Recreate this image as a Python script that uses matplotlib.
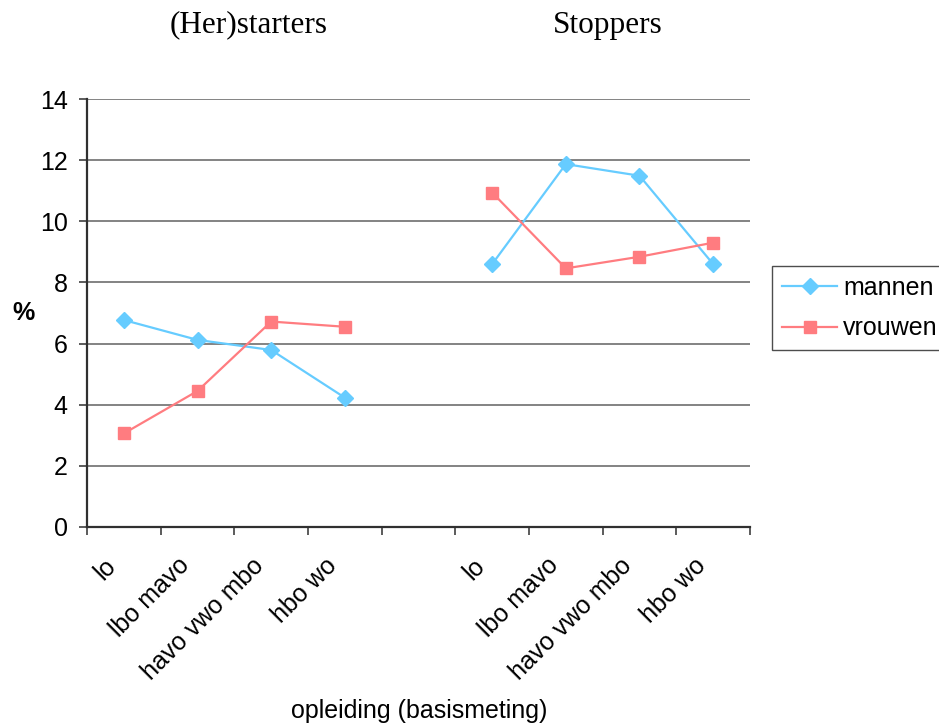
import matplotlib.pyplot as plt
import matplotlib.transforms as mtransforms
import numpy as np

plt.rcParams['font.family'] = ['Liberation Sans', 'DejaVu Sans']

# opleidingsniveaus, two groups separated by an empty slot
categories = ['lo', 'lbo mavo', 'havo vwo mbo', 'hbo wo', '',
              'lo', 'lbo mavo', 'havo vwo mbo', 'hbo wo']
mannen = [6.77, 6.12, 5.79, 4.23, np.nan, 8.6, 11.87, 11.49, 8.6]
vrouwen = [3.06, 4.45, 6.72, 6.55, np.nan, 10.94, 8.46, 8.84, 9.3]
group_titles = ['(Her)starters', 'Stoppers']

FS = 18

fig = plt.figure(figsize=(9.39, 7.28), dpi=100)
ax = fig.add_axes([0.0927, 0.2761, 0.7060, 0.5879])

x = np.arange(len(categories)) + 0.5
ax.plot(x, mannen, color='#66CCFF', lw=1.6, marker='D', ms=8.5,
        label='mannen')
ax.plot(x, vrouwen, color='#FF7C80', lw=1.6, marker='s', ms=8.8,
        label='vrouwen')

ax.set_xlim(0, len(categories))
ax.set_ylim(0, 14)
ax.set_yticks(range(0, 15, 2))
ax.yaxis.grid(True, color='#7a7a7a', lw=1.3)
ax.set_axisbelow(True)

# ticks sit on category boundaries, labels in the middle
ax.set_xticks(np.arange(len(categories) + 1))
ax.set_xticklabels([])
ax.set_xticks(x, minor=True)
ax.set_xticklabels(categories, minor=True, rotation=45, ha='right',
                   rotation_mode='anchor', fontsize=FS)
ax.tick_params(axis='x', which='minor', length=0, pad=19)
ax.tick_params(axis='both', which='major', direction='out', length=6,
               width=1.2, color='#404040', labelsize=FS)
ax.tick_params(axis='y', pad=8)
shift = mtransforms.ScaledTranslation(-0.2, 0, fig.dpi_scale_trans)
for lab in ax.get_xticklabels(minor=True):
    lab.set_transform(lab.get_transform() + shift)

for side in ['top', 'right']:
    ax.spines[side].set_visible(False)
for side in ['left', 'bottom']:
    ax.spines[side].set_color('#303030')
    ax.spines[side].set_linewidth(1.6)

ax.set_ylabel('%', rotation=0, fontsize=FS, fontweight='bold',
              labelpad=12, va='center')
fig.text(419 / 939, 1 - 711 / 728, 'opleiding (basismeting)',
         ha='center', va='center', fontsize=FS)

for title, xpos in zip(group_titles, [249, 608]):
    fig.text(xpos / 939, 1 - 25 / 728, title, ha='center', va='center',
             fontsize=22.5, family='Liberation Serif')

ax.legend(loc='upper left', bbox_to_anchor=(772 / 939, 1 - 266 / 728),
          bbox_transform=fig.transFigure, frameon=True, fancybox=False,
          edgecolor='#202020', fontsize=FS, handlelength=2.2,
          borderaxespad=0, borderpad=0.4, labelspacing=0.65,
          handletextpad=0.25)

fig.savefig('out.png', dpi=100)
